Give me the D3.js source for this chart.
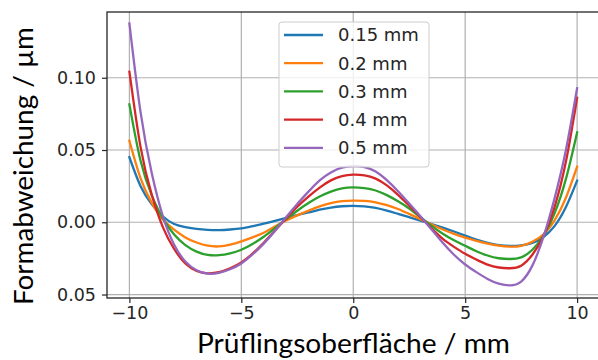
<!DOCTYPE html>
<html>
<head>
<meta charset="utf-8">
<script src="https://cdn.jsdelivr.net/npm/d3@7"></script>
<style>
  html, body { margin: 0; padding: 0; background: #fff; }
  svg { display: block; }
</style>
</head>
<body>
<svg id="chart" width="598" height="360"></svg>
<script>
// ---- data ----
const xValues = [-10,-9.5,-9,-8.5,-8,-7.5,-7,-6.5,-6,-5.5,-5,-4.5,-4,-3.5,-3,-2.5,-2,-1.5,-1,-0.5,0,
                 0.5,1,1.5,2,2.5,3,3.5,4,4.5,5,5.5,6,6.5,7,7.5,8,8.5,9,9.5,10];
const seriesNames = ["0.15 mm", "0.2 mm", "0.3 mm", "0.4 mm", "0.5 mm"];
const seriesColors = ["#1f77b4", "#ff7f0e", "#2ca02c", "#d62728", "#9467bd"];
const s015 = [0.0450,0.0250,0.0125,0.0040,-0.0012,-0.0033,-0.0045,-0.0052,-0.0054,-0.0050,-0.0042,-0.0027,-0.0010,0.0010,0.0030,0.0050,0.0068,0.0087,0.0102,0.0111,0.0114,
              0.0110,0.0100,0.0081,0.0058,0.0035,0.0012,-0.0012,-0.0037,-0.0064,-0.0092,-0.0120,-0.0143,-0.0158,-0.0164,-0.0160,-0.0143,-0.0102,-0.0025,0.0105,0.0288];
const s02  = [0.0564,0.0304,0.0134,0.0019,-0.0051,-0.0105,-0.0140,-0.0162,-0.0167,-0.0155,-0.0132,-0.0104,-0.0072,-0.0030,0.0012,0.0048,0.0080,0.0110,0.0132,0.0146,0.0150,
              0.0148,0.0138,0.0118,0.0092,0.0058,0.0022,-0.0015,-0.0050,-0.0080,-0.0106,-0.0128,-0.0147,-0.0162,-0.0169,-0.0163,-0.0135,-0.0083,0.0015,0.0170,0.0385];
const s03  = [0.0816,0.0425,0.0186,0.0025,-0.0085,-0.0158,-0.0203,-0.0226,-0.0228,-0.0215,-0.0190,-0.0150,-0.0100,-0.0040,0.0022,0.0080,0.0133,0.0178,0.0212,0.0235,0.0242,
              0.0236,0.0220,0.0188,0.0145,0.0095,0.0035,-0.0025,-0.0080,-0.0125,-0.0163,-0.0200,-0.0230,-0.0249,-0.0254,-0.0243,-0.0190,-0.0092,0.0065,0.0300,0.0622];
const s04  = [0.1042,0.0520,0.0190,-0.0035,-0.0185,-0.0285,-0.0336,-0.0353,-0.0345,-0.0318,-0.0278,-0.0217,-0.0142,-0.0058,0.0027,0.0108,0.0178,0.0240,0.0290,0.0320,0.0330,
              0.0325,0.0302,0.0255,0.0190,0.0115,0.0036,-0.0042,-0.0115,-0.0170,-0.0218,-0.0258,-0.0293,-0.0313,-0.0318,-0.0300,-0.0225,-0.0095,0.0110,0.0420,0.0862];
const s05  = [0.1376,0.0760,0.0340,0.0040,-0.0155,-0.0272,-0.0332,-0.0356,-0.0350,-0.0325,-0.0285,-0.0223,-0.0148,-0.0060,0.0035,0.0127,0.0212,0.0290,0.0345,0.0378,0.0388,
              0.0382,0.0352,0.0292,0.0215,0.0130,0.0042,-0.0050,-0.0142,-0.0225,-0.0292,-0.0345,-0.0392,-0.0425,-0.0437,-0.0410,-0.0300,-0.0100,0.0170,0.0500,0.0927];
const seriesValues = [s015, s02, s03, s04, s05];
const xTicks = [-10, -5, 0, 5, 10];
const xTickLabels = ["\u221210", "\u22125", "0", "5", "10"];
const yTicks = [-0.05, 0, 0.05, 0.10];
const yTickLabels = ["0.05", "0.00", "0.05", "0.10"];
const xTitle = "Prüflingsoberfläche / mm";
const yTitle = "Formabweichung / µm";

// ---- layout ----
const svg = d3.select("#chart");
const L = 107, R = 599.5, T = 12, B = 298;
const x = d3.scaleLinear().domain([-11, 11]).range([L, R]);
const y = d3.scaleLinear().domain([-0.0524, 0.1455]).range([B, T]);
const tickFont = "'DejaVu Sans', sans-serif";
const textCol = "#262626";

// grid
const grid = svg.append("g");
grid.selectAll(".gx").data(xTicks).join("line")
  .attr("x1", d => x(d)).attr("x2", d => x(d)).attr("y1", T).attr("y2", B)
  .attr("stroke", "#b0b0b0").attr("stroke-width", 1.2);
grid.selectAll(".gy").data(yTicks).join("line")
  .attr("x1", L).attr("x2", R).attr("y1", d => y(d)).attr("y2", d => y(d))
  .attr("stroke", "#b0b0b0").attr("stroke-width", 1.2);

// axes
const xAxis = d3.axisBottom(x).tickValues(xTicks).tickSize(5).tickPadding(4)
  .tickFormat((d, i) => xTickLabels[i]);
const yAxis = d3.axisLeft(y).tickValues(yTicks).tickSize(5).tickPadding(6)
  .tickFormat((d, i) => yTickLabels[i]);
const gx = svg.append("g").attr("transform", `translate(0,${B})`).call(xAxis);
const gy = svg.append("g").attr("transform", `translate(${L},0)`).call(yAxis);
[gx, gy].forEach(g => {
  g.select(".domain").remove();
  g.selectAll(".tick line").attr("stroke", textCol).attr("stroke-width", 1.2);
  g.selectAll(".tick text").attr("fill", textCol)
    .style("font-family", tickFont).style("font-size", "17.5px");
});

// lines
const line = d3.line().x((d, i) => x(xValues[i])).y(d => y(d)).curve(d3.curveNatural);
svg.append("g").selectAll("path").data(seriesValues).join("path")
  .attr("d", d => line(d))
  .attr("fill", "none")
  .attr("stroke", (d, i) => seriesColors[i])
  .attr("stroke-width", 2.3)
  .attr("stroke-linecap", "square");

// frame
svg.append("rect").attr("x", L).attr("y", T).attr("width", R - L).attr("height", B - T)
  .attr("fill", "none").attr("stroke", textCol).attr("stroke-width", 1.3);

// legend
const lg = svg.append("g");
lg.append("rect").attr("x", 279).attr("y", 22).attr("width", 150).attr("height", 145)
  .attr("rx", 3).attr("fill", "#ffffff").attr("fill-opacity", 0.8)
  .attr("stroke", "#cccccc").attr("stroke-width", 1);
const rows = lg.selectAll(".row").data(seriesNames).join("g")
  .attr("transform", (d, i) => `translate(0,${35 + i * 28.2})`);
rows.append("line").attr("x1", 284).attr("x2", 323).attr("y1", 0).attr("y2", 0)
  .attr("stroke", (d, i) => seriesColors[i]).attr("stroke-width", 2.3);
rows.append("text").attr("x", 338).attr("y", 0).attr("dy", "0.36em")
  .attr("fill", textCol).style("font-family", tickFont).style("font-size", "18px")
  .text(d => d);

// axis titles
svg.append("text").attr("x", 353.5).attr("y", 352.5).attr("text-anchor", "middle")
  .attr("textLength", 313).attr("lengthAdjust", "spacingAndGlyphs")
  .style("font-family", "Lato, 'Open Sans', sans-serif").style("font-size", "27px")
  .attr("fill", "#000").text(xTitle);
svg.append("text").attr("transform", "translate(33,166) rotate(-90)")
  .attr("text-anchor", "middle")
  .attr("textLength", 278).attr("lengthAdjust", "spacingAndGlyphs")
  .style("font-family", "Lato, 'Open Sans', sans-serif").style("font-size", "27.5px")
  .attr("fill", "#000").text(yTitle);
</script>
</body>
</html>
